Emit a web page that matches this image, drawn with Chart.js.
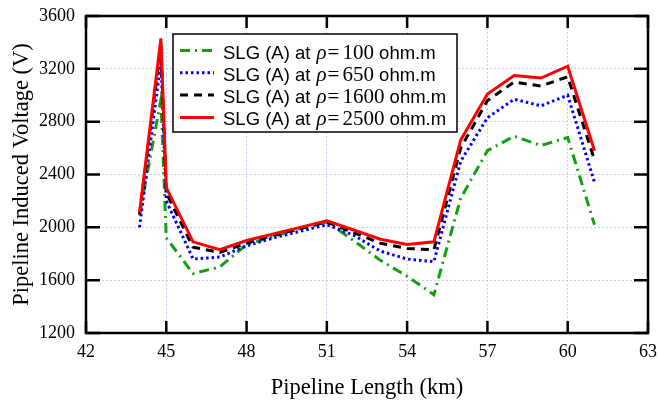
<!DOCTYPE html>
<html>
<head>
<meta charset="utf-8">
<script src="https://cdn.jsdelivr.net/npm/chart.js@4.4.1/dist/chart.umd.min.js"></script>
<style>
  html, body { margin: 0; padding: 0; background: #fff; }
  #wrap { width: 659px; height: 400px; position: relative; }
</style>
</head>
<body>
<div id="wrap"><canvas id="c" width="659" height="400"></canvas></div>
<script>
// ---- data ----
const lengthKm = [44, 44.8, 45, 46, 47, 48, 49, 50, 51, 52, 53, 54, 55, 56, 57, 58, 59, 60, 61];
const rho100  = [2090, 2970, 1920, 1650, 1700, 1870, 1930, 1990, 2040, 1900, 1750, 1630, 1490, 2220, 2580, 2690, 2620, 2680, 2020];
const rho650  = [2000, 3260, 2200, 1760, 1775, 1860, 1920, 1970, 2020, 1940, 1820, 1760, 1740, 2500, 2830, 2970, 2920, 3000, 2340];
const rho1600 = [2100, 3380, 2260, 1850, 1810, 1880, 1940, 1990, 2040, 1960, 1880, 1840, 1830, 2600, 2960, 3100, 3070, 3140, 2510];
const rho2500 = [2110, 3430, 2300, 1890, 1830, 1900, 1950, 2000, 2050, 1980, 1910, 1870, 1890, 2660, 3010, 3150, 3130, 3220, 2580];
const rhoLabels = ['100', '650', '1600', '2500'];
const xTicks = [42, 45, 48, 51, 54, 57, 60, 63];
const yTicks = [1200, 1600, 2000, 2400, 2800, 3200, 3600];

const pts = arr => arr.map((v, i) => ({x: lengthKm[i], y: v}));

const styles = [
  {color: '#12a012', dash: [10, 5, 2, 5], order: 4},
  {color: '#0000ff', dash: [2.5, 3], order: 3},
  {color: '#000000', dash: [8, 6], order: 2},
  {color: '#ff0000', dash: [], order: 1}
];
const series = [rho100, rho650, rho1600, rho2500];

const datasets = series.map((s, i) => ({
  label: 'SLG (A) at \u03c1 = ' + rhoLabels[i] + ' ohm.m',
  data: pts(s),
  borderColor: styles[i].color,
  borderDash: styles[i].dash,
  borderWidth: 3,
  pointRadius: 0,
  fill: false,
  tension: 0,
  order: styles[i].order
}));

const frameAndLegend = {
  id: 'frameAndLegend',
  afterDraw(chart) {
    const ctx = chart.ctx;
    const a = chart.chartArea;
    const xs = chart.scales.x, ys = chart.scales.y;
    ctx.save();
    ctx.strokeStyle = '#000';
    ctx.lineWidth = 2.5;
    ctx.setLineDash([]);
    ctx.beginPath();
    ctx.rect(a.left, a.top, a.right - a.left, a.bottom - a.top);
    ctx.stroke();
    // inward ticks
    ctx.beginPath();
    xTicks.forEach(v => {
      const px = xs.getPixelForValue(v);
      ctx.moveTo(px, a.bottom); ctx.lineTo(px, a.bottom - 12);
      ctx.moveTo(px, a.top); ctx.lineTo(px, a.top + 12);
    });
    yTicks.forEach(v => {
      const py = ys.getPixelForValue(v);
      ctx.moveTo(a.left, py); ctx.lineTo(a.left + 14, py);
      ctx.moveTo(a.right, py); ctx.lineTo(a.right - 14, py);
    });
    ctx.stroke();

    // legend
    const bx = 173, by = 34, bw = 284, bh = 98;
    ctx.fillStyle = '#fff';
    ctx.fillRect(bx, by, bw, bh);
    ctx.lineWidth = 1.5;
    ctx.strokeRect(bx, by, bw, bh);
    for (let i = 0; i < 4; i++) {
      const ry = 50.5 + i * 22.3;
      ctx.beginPath();
      ctx.strokeStyle = styles[i].color;
      ctx.lineWidth = 3;
      ctx.setLineDash(styles[i].dash);
      ctx.moveTo(180, ry); ctx.lineTo(214, ry);
      ctx.stroke();
      ctx.setLineDash([]);
      ctx.fillStyle = '#000';
      ctx.textBaseline = 'alphabetic';
      ctx.textAlign = 'left';
      let x = 223;
      const base = ry + 8;
      ctx.font = '18.5px "Liberation Sans", Arial, sans-serif';
      ctx.fillText('SLG (A) at ', x, base);
      x += ctx.measureText('SLG (A) at ').width + 1;
      ctx.font = 'italic 21px "Liberation Serif", "Times New Roman", serif';
      ctx.fillText('\u03c1', x, base);
      x += ctx.measureText('\u03c1').width + 1;
      ctx.font = '21px "Liberation Serif", "Times New Roman", serif';
      ctx.fillText('=', x, base);
      x += ctx.measureText('=').width + 3;
      ctx.fillText(rhoLabels[i], x, base);
      x += ctx.measureText(rhoLabels[i]).width;
      ctx.font = '18.5px "Liberation Sans", Arial, sans-serif';
      ctx.fillText(' ohm.m', x, base);
    }
    ctx.restore();
  }
};

const serif = '"Liberation Serif", "Times New Roman", serif';
new Chart(document.getElementById('c'), {
  type: 'line',
  data: {datasets},
  options: {
    responsive: false,
    animation: false,
    layout: {padding: {left: 0, right: 11, top: 16, bottom: 0}},
    plugins: {legend: {display: false}, tooltip: {enabled: false}},
    scales: {
      x: {
        type: 'linear', min: 42, max: 63,
        afterBuildTicks: s => { s.ticks = xTicks.map(v => ({value: v})); },
        afterFit: s => { s.height = 67; s.paddingLeft = 0; s.paddingRight = 0; },
        ticks: {color: '#000', font: {family: serif, size: 18}, padding: 8, maxRotation: 0, autoSkip: false,
                callback: v => String(v)},
        grid: {color: 'rgba(150,170,240,0.55)', lineWidth: 1, drawTicks: false},
        border: {display: false, dash: [2, 2]},
        title: {display: true, text: 'Pipeline Length (km)', color: '#000',
                font: {family: serif, size: 22.5, lineHeight: 1}, padding: {top: 0, bottom: 1}}
      },
      y: {
        type: 'linear', min: 1200, max: 3600,
        afterBuildTicks: s => { s.ticks = yTicks.map(v => ({value: v})); },
        afterFit: s => { s.width = 86; s.paddingTop = 0; s.paddingBottom = 0; },
        ticks: {color: '#000', font: {family: serif, size: 18}, padding: 11, autoSkip: false,
                callback: v => String(v)},
        grid: {color: 'rgba(150,170,240,0.55)', lineWidth: 1, drawTicks: false},
        border: {display: false, dash: [2, 2]},
        title: {display: true, text: 'Pipeline Induced Voltage (V)', color: '#000',
                font: {family: serif, size: 22.5, lineHeight: 1}, padding: {top: 11, bottom: 0}}
      }
    }
  },
  plugins: [frameAndLegend]
});
</script>
</body>
</html>
